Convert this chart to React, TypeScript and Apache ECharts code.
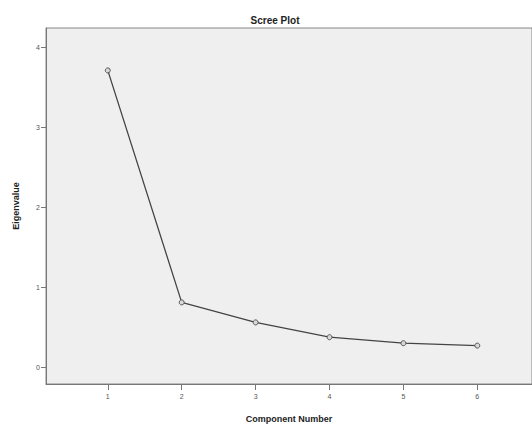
import React, { useEffect, useRef } from "react";
import * as echarts from "echarts";

const components = [1, 2, 3, 4, 5, 6];
const eigenvalues = [3.71, 0.81, 0.56, 0.375, 0.3, 0.27];
const xTicks = [1, 2, 3, 4, 5, 6];
const yTicks = [0, 1, 2, 3, 4];

export default function App() {
  const ref = useRef<HTMLDivElement>(null);
  useEffect(() => {
    const chart = echarts.init(ref.current!, null, { renderer: "svg" });
    const font = "'Liberation Sans', Arial, sans-serif";
    chart.setOption({
      animation: false,
      backgroundColor: "#ffffff",
      title: {
        text: "Scree Plot",
        left: 270,
        top: 10,
        textAlign: "center",
        textStyle: { fontSize: 10, fontWeight: "bold", color: "#222", fontFamily: font },
      },
      grid: {
        left: 46,
        top: 28,
        right: -2,
        bottom: 45,
        show: true,
        backgroundColor: "#efefef",
        borderColor: "#888",
        borderWidth: 1,
      },
      xAxis: {
        type: "value",
        min: 0.164,
        max: 6.74,
        name: "Component Number",
        nameLocation: "middle",
        nameGap: 30,
        nameTextStyle: { fontSize: 9, fontWeight: "bold", color: "#222", fontFamily: font },
        axisLine: { show: true, onZero: false, lineStyle: { color: "#777" } },
        axisTick: { show: true, length: 6, customValues: xTicks, lineStyle: { color: "#777" } },
        axisLabel: {
          customValues: xTicks,
          fontSize: 7,
          color: "#555",
          margin: 9,
          fontFamily: font,
        },
        splitLine: { show: false },
      },
      yAxis: {
        type: "value",
        min: -0.21,
        max: 4.24,
        name: "Eigenvalue",
        nameLocation: "middle",
        nameGap: 26,
        nameRotate: 90,
        nameTextStyle: { fontSize: 9, fontWeight: "bold", color: "#222", fontFamily: font },
        axisLine: { show: true, onZero: false, lineStyle: { color: "#777" } },
        axisTick: { show: true, length: 5, customValues: yTicks, lineStyle: { color: "#777" } },
        axisLabel: {
          customValues: yTicks,
          fontSize: 7,
          color: "#555",
          margin: 6,
          fontFamily: font,
        },
        splitLine: { show: false },
      },
      series: [
        {
          type: "line",
          data: components.map((c, i) => [c, eigenvalues[i]]),
          symbol: "circle",
          symbolSize: 5,
          lineStyle: { color: "#444", width: 1.3 },
          itemStyle: { color: "#d8d8d8", borderColor: "#555", borderWidth: 1 },
        },
      ],
    });
    return () => chart.dispose();
  }, []);
  return <div ref={ref} style={{ width: 532, height: 429, position: "absolute", left: 0, top: 0 }} />;
}
